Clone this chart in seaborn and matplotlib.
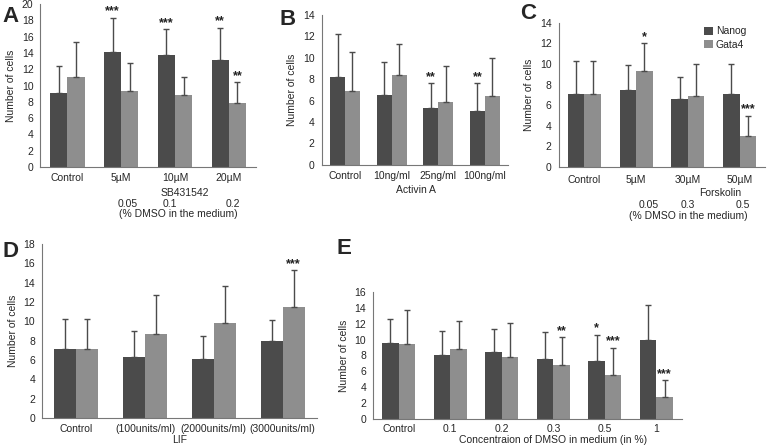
import pandas as pd
import matplotlib.pyplot as plt
import matplotlib.transforms as mtransforms
import seaborn as sns

# Panel data: means, SD (upper error) and significance marks per group
a_groups = ["Control", "5µM", "10µM", "20µM"]
a_nanog = [9.1, 14.1, 13.8, 13.1]
a_nanog_sd = [3.3, 4.2, 3.1, 4.0]
a_gata4 = [11.0, 9.3, 8.8, 7.9]
a_gata4_sd = [4.3, 3.5, 2.2, 2.5]
a_nanog_sig = ["", "***", "***", "**"]
a_gata4_sig = ["", "", "", "**"]

b_groups = ["Control", "10ng/ml", "25ng/ml", "100ng/ml"]
b_nanog = [8.2, 6.5, 5.3, 5.0]
b_nanog_sd = [4.0, 3.1, 2.3, 2.6]
b_gata4 = [6.9, 8.4, 5.9, 6.4]
b_gata4_sd = [3.6, 2.9, 3.3, 3.6]
b_nanog_sig = ["", "", "**", "**"]
b_gata4_sig = ["", "", "", ""]

c_groups = ["Control", "5µM", "30µM", "50µM"]
c_nanog = [7.1, 7.5, 6.6, 7.1]
c_nanog_sd = [3.2, 2.4, 2.1, 2.9]
c_gata4 = [7.1, 9.3, 6.9, 3.0]
c_gata4_sd = [3.2, 2.7, 3.1, 2.0]
c_nanog_sig = ["", "", "", ""]
c_gata4_sig = ["", "*", "", "***"]

d_groups = ["Control", "(100units/ml)", "(2000units/ml)", "(3000units/ml)"]
d_nanog = [7.1, 6.3, 6.1, 8.0]
d_nanog_sd = [3.2, 2.7, 2.4, 2.1]
d_gata4 = [7.1, 8.7, 9.8, 11.5]
d_gata4_sd = [3.2, 4.0, 3.9, 3.8]
d_nanog_sig = ["", "", "", ""]
d_gata4_sig = ["", "", "", "***"]

e_groups = ["Control", "0.1", "0.2", "0.3", "0.5", "1"]
e_nanog = [9.6, 8.0, 8.5, 7.5, 7.3, 9.9]
e_nanog_sd = [3.0, 3.1, 2.8, 3.5, 3.3, 4.5]
e_gata4 = [9.4, 8.8, 7.8, 6.8, 5.6, 2.7]
e_gata4_sd = [4.4, 3.5, 4.3, 3.5, 3.4, 2.2]
e_nanog_sig = ["", "", "", "", "*", ""]
e_gata4_sig = ["", "", "", "**", "***", "***"]

a_dmso = ["0.05", "0.1", "0.2"]
c_dmso = ["0.05", "0.3", "0.5"]

genes = ["Nanog", "Gata4"]
colors = {"Nanog": "#4b4b4b", "Gata4": "#8e8e8e"}

sns.set_style("white")
plt.rcParams["font.family"] = ["Liberation Sans", "DejaVu Sans"]
FS = 7.5

fig = plt.figure(figsize=(7.77, 4.48), dpi=100)


def panel(rect, groups, nanog, nanog_sd, gata4, gata4_sd, nanog_sig, gata4_sig, ymax,
          legend=False, pad=4.5):
    ax = fig.add_axes(rect)
    df = pd.DataFrame({
        "group": groups * 2,
        "gene": ["Nanog"] * len(groups) + ["Gata4"] * len(groups),
        "value": nanog + gata4,
    })
    sns.barplot(data=df, x="group", y="value", hue="gene", hue_order=genes,
                palette=colors, width=0.64, errorbar=None, saturation=1,
                edgecolor="none", ax=ax, legend=legend)
    for cont, sd, sig in zip(ax.containers, [nanog_sd, gata4_sd], [nanog_sig, gata4_sig]):
        xs = [b.get_x() + b.get_width() / 2 for b in cont]
        hs = [b.get_height() for b in cont]
        ax.errorbar(xs, hs, yerr=[[0] * len(sd), sd], fmt="none", ecolor="#4b4b4b",
                    elinewidth=1, capsize=2, capthick=1)
        for x, h, s, mark in zip(xs, hs, sd, sig):
            if mark:
                ax.text(x, h + s + 0.05 * ymax / 20, mark, ha="center", va="bottom",
                        fontsize=9, fontweight="bold", color="#222222")
    ax.set_xlim(-0.5, len(groups) - 0.5)
    ax.set_ylim(0, ymax)
    ax.set_yticks(range(0, ymax + 1, 2))
    ax.set_xticks(range(len(groups)))
    ax.set_xticks([i - 0.5 for i in range(len(groups) + 1)], minor=True)
    ax.tick_params(axis="x", which="major", length=0, labelsize=FS, pad=pad)
    ax.tick_params(axis="x", which="minor", length=3, color="#777777", direction="out")
    ax.tick_params(axis="y", length=3, color="#777777", labelsize=FS, direction="out", pad=2)
    ax.set_xlabel("")
    ax.set_ylabel("Number of cells", fontsize=FS)
    sns.despine(ax=ax)
    for sp in ["left", "bottom"]:
        ax.spines[sp].set_color("#777777")
        ax.spines[sp].set_linewidth(0.8)
    if legend:
        ax.legend(loc="upper left", bbox_to_anchor=(0.66, 1.04), frameon=False, fontsize=FS,
                  handlelength=0.8, handleheight=0.8, handletextpad=0.3, labelspacing=0.3)
    return ax


def under(ax, x, y_px, text):
    trans = mtransforms.blended_transform_factory(ax.transData, ax.transAxes)
    trans = trans + mtransforms.ScaledTranslation(0, -y_px / 100, fig.dpi_scale_trans)
    ax.text(x, 0, text, transform=trans, ha="center", va="top", fontsize=FS)


ax_a = panel([0.052, 0.627, 0.277, 0.364], a_groups, a_nanog, a_nanog_sd, a_gata4, a_gata4_sd,
             a_nanog_sig, a_gata4_sig, 20)
under(ax_a, 2.18, 21, "SB431542")
for x, t in zip([1.13, 1.9, 3.07], a_dmso):
    under(ax_a, x, 32, t)
under(ax_a, 2.07, 42, "(% DMSO in the medium)")

ax_b = panel([0.414, 0.632, 0.240, 0.335], b_groups, b_nanog, b_nanog_sd, b_gata4, b_gata4_sd,
             b_nanog_sig, b_gata4_sig, 14)
under(ax_b, 1.52, 20, "Activin A")

ax_c = panel([0.719, 0.627, 0.266, 0.322], c_groups, c_nanog, c_nanog_sd, c_gata4, c_gata4_sd,
             c_nanog_sig, c_gata4_sig, 14, legend=True, pad=6)
under(ax_c, 2.63, 21, "Forskolin")
for x, t in zip([1.25, 2.0, 3.07], c_dmso):
    under(ax_c, x, 33, t)
under(ax_c, 2.0, 44, "(% DMSO in the medium)")

ax_d = panel([0.054, 0.067, 0.354, 0.388], d_groups, d_nanog, d_nanog_sd, d_gata4, d_gata4_sd,
             d_nanog_sig, d_gata4_sig, 18)
under(ax_d, 1.5, 17, "LIF")

ax_e = panel([0.480, 0.065, 0.398, 0.283], e_groups, e_nanog, e_nanog_sd, e_gata4, e_gata4_sd,
             e_nanog_sig, e_gata4_sig, 16, pad=4)
under(ax_e, 3.0, 16.5, "Concentraion of DMSO in medium (in %)")

for label, x, y in [("A", 0.003, 0.951), ("B", 0.360, 0.944), ("C", 0.669, 0.958),
                    ("D", 0.003, 0.426), ("E", 0.433, 0.433)]:
    fig.text(x, y, label, fontsize=16, fontweight="bold", va="baseline", ha="left")

fig.savefig("out.png", dpi=100)
